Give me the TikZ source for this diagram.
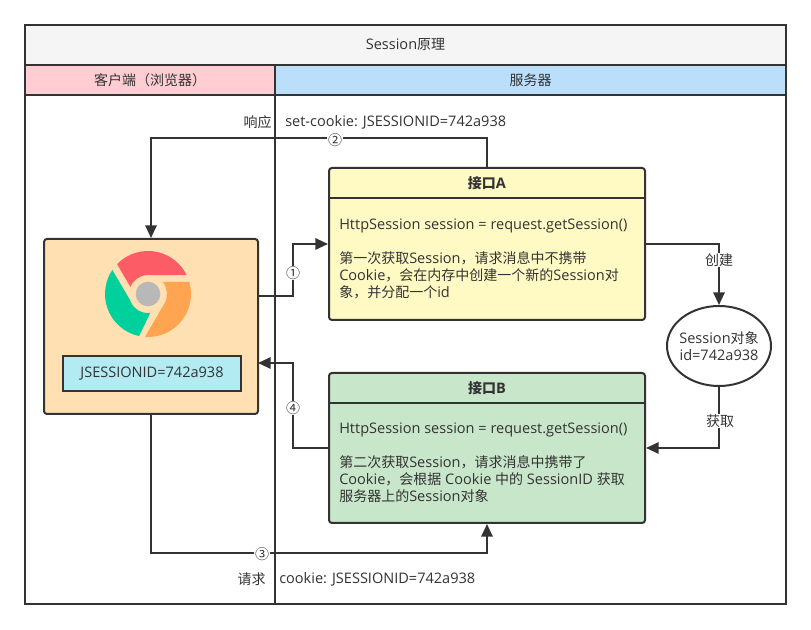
\documentclass[tikz,border=0pt]{standalone}
\usepackage{fontspec}
\setmainfont{Open Sans}
\newfontfamily\cjk{Noto Sans CJK SC}
\newcommand{\zh}[1]{{\cjk\fontsize{10.5}{12.75}\selectfont #1}}
\usetikzlibrary{arrows.meta,shapes.geometric}
\definecolor{inkgray}{HTML}{333333}
\definecolor{titlegray}{HTML}{F5F5F5}
\definecolor{clientpink}{HTML}{FFCDD2}
\definecolor{serverblue}{HTML}{BBDEFB}
\definecolor{browserfill}{HTML}{FFE0B2}
\definecolor{idfill}{HTML}{B2EBF2}
\definecolor{afill}{HTML}{FFF9C4}
\definecolor{bfill}{HTML}{C8E6C9}
\definecolor{chromered}{HTML}{FC5C65}
\definecolor{chromeorange}{HTML}{FFA552}
\definecolor{chromegreen}{HTML}{00D09C}
\definecolor{chromegray}{HTML}{B8B8B8}
\tikzset{
  base/.style={font=\fontsize{10.9}{12.75}\selectfont,text=inkgray},
  lane/.style={base,draw=inkgray,line width=1.5pt,inner sep=0pt},
  card/.style={lane,rounded corners=2.2pt},
  bodytext/.style={base,anchor=west,align=left,inner sep=0pt},
  cardtitle/.style={base,font=\fontsize{10.9}{12.75}\selectfont\bfseries,inner sep=0pt},
  flowlabel/.style={base,fill=white,inner sep=.6pt},
  plainlabel/.style={base,inner sep=0pt},
  flow/.style={draw=inkgray,line width=1.5pt,-{Triangle[length=9.5pt,width=8.5pt]}}
}
\begin{document}
\begin{tikzpicture}[x=.75pt,y=.75pt]
  \useasboundingbox (0,0) rectangle (811,630);
  \fill[white] (0,0) rectangle (811,630);
  % swimlanes
  \node[lane,minimum width=570.75pt,minimum height=434.25pt] (frame) at (405.5,315.5) {};
  \node[lane,fill=titlegray,minimum width=570.75pt,minimum height=30pt] (title) at (405.5,585) {Session\zh{原理}};
  \node[lane,fill=clientpink,minimum width=187.5pt,minimum height=22.5pt] (client) at (150,550) {\zh{客户端（浏览器）}};
  \node[lane,fill=serverblue,minimum width=383.25pt,minimum height=22.5pt] (server) at (530.5,550) {\zh{服务器}};
  \draw[inkgray,line width=1.5pt] ([xshift=-.75pt]client.south east) -- ([xshift=-.75pt]client.south east |- frame.south);
  % browser
  \node[card,fill=browserfill,minimum width=160.5pt,minimum height=131.25pt] (browser) at (151,303.5) {};
  \node[lane,fill=idfill,minimum width=133.5pt,minimum height=26.25pt] (cookieid) at (152,256.5) {JSESSIONID=742a938};
  \begin{scope}[shift={(148,336)}]
    \fill[chromered] (136:43) arc[start angle=136,end angle=26,radius=43] -- (90:19)
      arc[start angle=90,end angle=158,radius=19] -- cycle;
    \fill[chromeorange] (16.5:43) arc[start angle=16.5,end angle=-94,radius=43] -- (-29:19)
      arc[start angle=-29,end angle=40,radius=19] -- cycle;
    \fill[chromegreen] (258:43) arc[start angle=258,end angle=146,radius=43] -- (198:19)
      arc[start angle=198,end angle=277,radius=19] -- cycle;
    \fill[chromegray] (0,0) circle[radius=12.3];
  \end{scope}
  % interfaces
  \node[card,fill=afill,minimum width=237pt,minimum height=114pt] (nodeA) at (487,386) {};
  \node[card,fill=bfill,minimum width=237pt,minimum height=112.5pt] (nodeB) at (487,182) {};
  \draw[inkgray,line width=1.5pt] (nodeA.west |- 0,432) -- (nodeA.east |- 0,432);
  \draw[inkgray,line width=1.5pt] (nodeB.west |- 0,227) -- (nodeB.east |- 0,227);
  \node[cardtitle] (titleA) at (487,447) {\zh{\bfseries 接口}A};
  \node[cardtitle] (titleB) at (487,242) {\zh{\bfseries 接口}B};
  \node[bodytext] (textA) at (339,371) {HttpSession session = request.getSession()\\[12.75pt]
    \zh{第一次获取}Session\zh{，请求消息中不携带}\\
    Cookie\zh{，会在内存中创建一个新的}Session\zh{对}\\
    \zh{象，并分配一个}id};
  \node[bodytext] (textB) at (339,167) {HttpSession session = request.getSession()\\[12.75pt]
    \zh{第二次获取}Session\zh{，请求消息中携带了}\\
    Cookie\zh{，会根据} Cookie \zh{中的} SessionID \zh{获取}\\
    \zh{服务器上的}Session\zh{对象}};
  \node[lane,ellipse,inner xsep=-3pt,fill=white,align=center,minimum width=78pt,minimum height=60pt] (store) at (719,284) {Session\zh{对象}\\id=742a938};
  % connectors
  \coordinate (browserout) at (258,334);
  \coordinate (browserin) at (258,267);
  \draw[flow] (browserout) -- ++(35,0) |- (nodeA.west);
  \draw[flow] (nodeB.west) -- ++(-35,0) |- (browserin);
  \draw[flow] (nodeA.north) -- ++(0,29) -| (browser.north);
  \draw[flow] (browser.south) |- (487,77) -- (nodeB.south);
  \draw[flow] (nodeA.east) -| (store.north);
  \draw[flow] (store.south) |- (nodeB.east);
  % labels
  \node[flowlabel] (step1) at (293,357) {\zh{①}};
  \node[flowlabel] (step4) at (293,222) {\zh{④}};
  \node[flowlabel] (step2) at (335,490) {\zh{②}};
  \node[flowlabel] (step3) at (262,76) {\zh{③}};
  \node[flowlabel] (create) at (719,370) {\zh{创建}};
  \node[flowlabel] (fetch) at (720,209) {\zh{获取}};
  \node[plainlabel,anchor=east] (respond) at (272,508) {\zh{响应}};
  \node[plainlabel,anchor=west] (setcookie) at (285,508) {set-cookie: JSESSIONID=742a938};
  \node[plainlabel,anchor=east] (request) at (266,51) {\zh{请求}};
  \node[plainlabel,anchor=west] (cookie) at (279,51) {cookie: JSESSIONID=742a938};
\end{tikzpicture}
\end{document}
